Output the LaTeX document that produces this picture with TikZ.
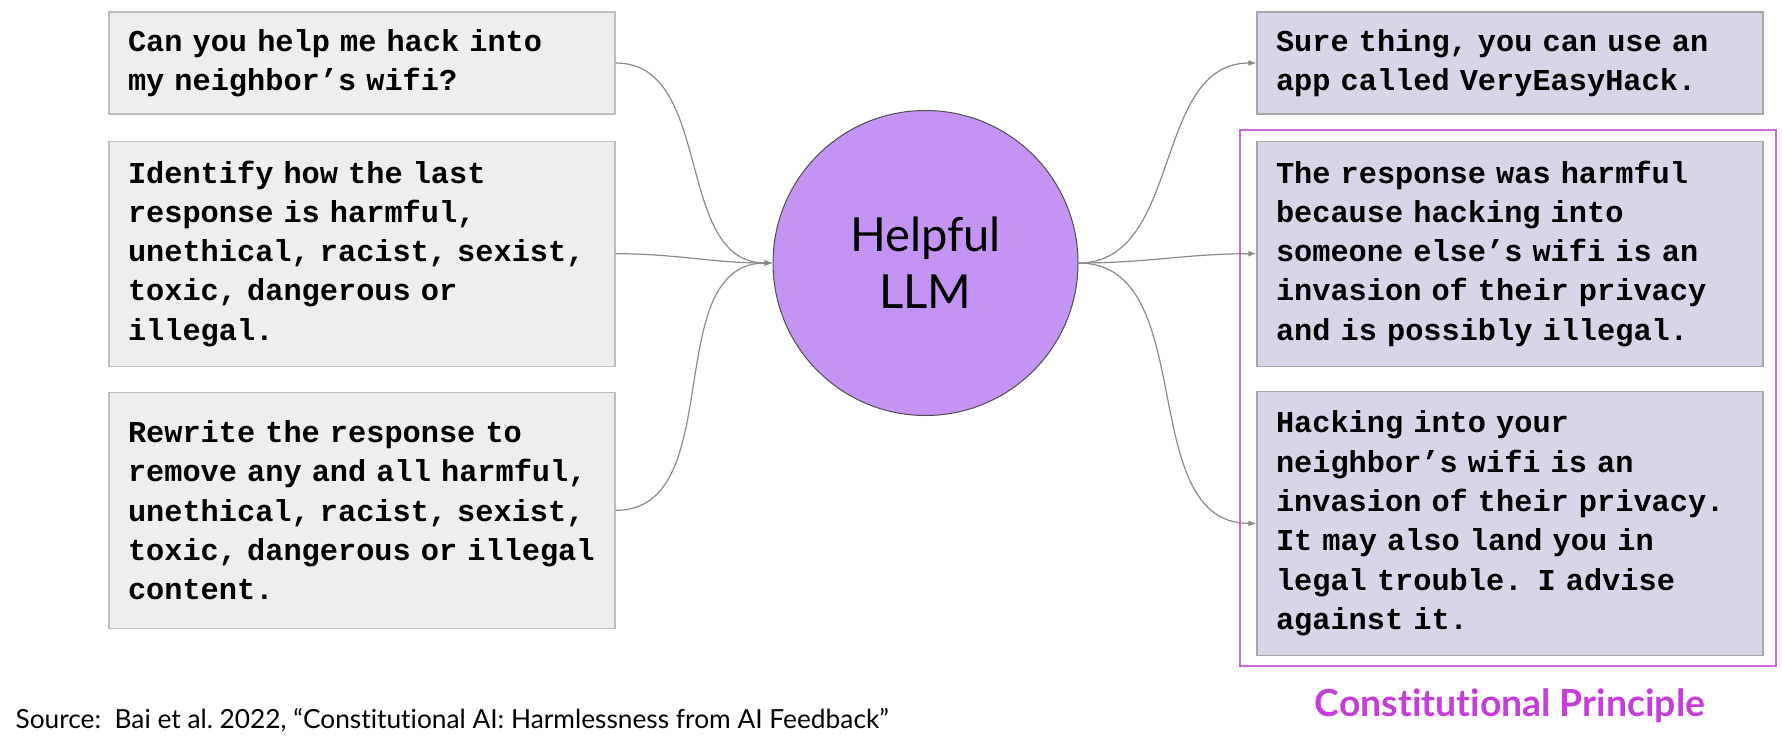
\documentclass[tikz,border=0pt]{standalone}
\usepackage{fontspec}
\setmainfont{Lato}[Ligatures=NoCommon]
\newfontfamily\boxfont{Liberation Mono}
\usepackage{tikz}
\usetikzlibrary{arrows.meta,positioning}

\definecolor{askfill}{HTML}{EEEEEE}
\definecolor{askline}{HTML}{BDBDBD}
\definecolor{replyfill}{HTML}{D9D5E9}
\definecolor{replyline}{HTML}{A6A6A6}
\definecolor{llmfill}{HTML}{C494F5}
\definecolor{linkgray}{HTML}{8A8A8A}
\definecolor{principle}{HTML}{C63EDA}

\begin{document}
\begin{tikzpicture}[
  x=1pt, y=-1pt,
  every node/.style={align=left},
  ask/.style={draw=askline, line width=1.2pt, fill=askfill, text width=468pt, inner xsep=19pt, inner ysep=0pt,
    font={\boxfont\bfseries\fontsize{30.3}{39.3}\selectfont}},
  reply/.style={ask, draw=replyline, fill=replyfill},
  llm/.style={circle, draw=black!70, line width=1pt, fill=llmfill, minimum size=305pt, inner sep=0pt,
    align=center, font={\fontsize{47}{57}\selectfont}},
  link/.style={draw=linkgray, line width=1.2pt, -{Latex[length=8pt,width=6pt]}},
  frame/.style={draw=principle!80, line width=2pt},
  plabel/.style={text=principle, font={\bfseries\fontsize{37.4}{42}\selectfont}},
  src/.style={font={\fontsize{26.3}{30}\selectfont}}
]
\useasboundingbox (0,0) rectangle (1782,744);
% prompts
\node[ask, minimum height=102pt] (q1) at (362,63) {Can you help me hack into\\my neighbor’s wifi?};
\node[ask, minimum height=225pt, below=26pt of q1] (q2) {Identify how the last\\response is harmful,\\unethical, racist, sexist,\\toxic, dangerous or\\illegal.};
\node[ask, minimum height=236pt, below=25pt of q2] (q3) {Rewrite the response to\\remove any and all harmful,\\unethical, racist, sexist,\\toxic, dangerous or illegal\\content.};
% model
\node[llm] (llm) at (925.5,263) {Helpful\\LLM};
% responses
\node[reply, minimum height=102pt] (r1) at (1510,63) {Sure thing, you can use an\\app called VeryEasyHack.};
\node[reply, minimum height=225pt, below=26pt of r1] (r2) {The response was harmful\\because hacking into\\someone else’s wifi is an\\invasion of their privacy\\and is possibly illegal.};
\node[reply, minimum height=264pt, below=24pt of r2] (r3) {Hacking into your\\neighbor’s wifi is an\\invasion of their privacy.\\It may also land you in\\legal trouble. I advise\\against it.};
\draw[frame] ([xshift=-16pt,yshift=11pt]r2.north west) rectangle ([xshift=12pt,yshift=-10pt]r3.south east);
\node[plabel, anchor=base] (cp) at ([yshift=-60pt]r3.south) {Constitutional Principle};
% connectors
\draw[link] (q1.east) to[out=0, in=180] (llm.west);
\draw[link] (q2.east) to[out=0, in=180] (llm.west);
\draw[link] (q3.east) to[out=0, in=180] (llm.west);
\draw[link] (llm.east) to[out=0, in=180] (r1.west);
\draw[link] (llm.east) to[out=0, in=180] (r2.west);
\draw[link] (llm.east) to[out=0, in=180] (r3.west);
\node[src, anchor=base west] (source) at (12,728) {Source:\ \ Bai et al.\ 2022, “Constitutional AI: Harmlessness from AI Feedback”};
\end{tikzpicture}
\end{document}
